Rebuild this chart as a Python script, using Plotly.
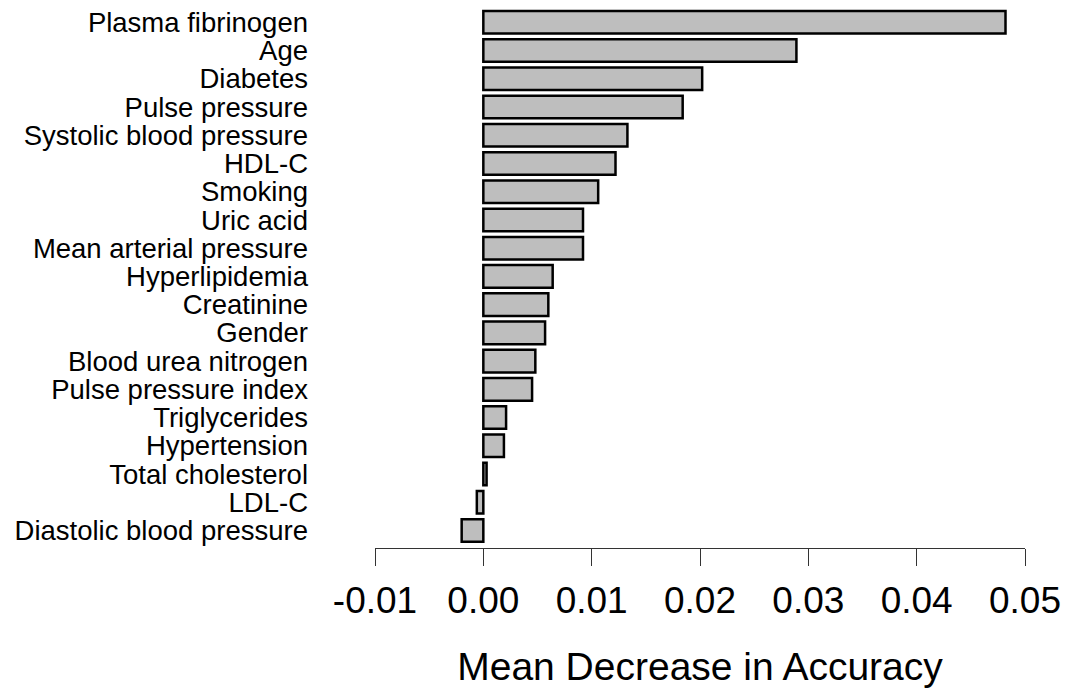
import plotly.graph_objects as go

variables = [
    "Plasma fibrinogen", "Age", "Diabetes", "Pulse pressure",
    "Systolic blood pressure", "HDL-C", "Smoking", "Uric acid",
    "Mean arterial pressure", "Hyperlipidemia", "Creatinine", "Gender",
    "Blood urea nitrogen", "Pulse pressure index", "Triglycerides",
    "Hypertension", "Total cholesterol", "LDL-C", "Diastolic blood pressure",
]
mean_decrease_accuracy = [
    0.0482, 0.0289, 0.0202, 0.0184,
    0.0133, 0.0122, 0.0106, 0.0092,
    0.0092, 0.0064, 0.0060, 0.0057,
    0.0048, 0.0045, 0.0021,
    0.0019, 0.0003, -0.0006, -0.0020,
]
x_ticks = [-0.01, 0.00, 0.01, 0.02, 0.03, 0.04, 0.05]
x_tick_labels = ["-0.01", "0.00", "0.01", "0.02", "0.03", "0.04", "0.05"]

FONT = "Liberation Sans, Arial, Helvetica, sans-serif"

fig = go.Figure(
    go.Bar(
        x=mean_decrease_accuracy,
        y=variables,
        orientation="h",
        marker=dict(color="#BEBEBE", line=dict(color="black", width=2.5)),
        hoverinfo="x+y",
    )
)

fig.update_layout(
    width=1071,
    height=688,
    margin=dict(l=375, r=46, t=8, b=140, autoexpand=False),
    paper_bgcolor="white",
    plot_bgcolor="white",
    bargap=0.2,
    showlegend=False,
    font=dict(family=FONT, color="black"),
)

fig.update_xaxes(
    range=[-0.01, 0.05],
    tickmode="array",
    tickvals=x_ticks,
    ticktext=x_tick_labels,
    ticks="outside",
    ticklen=17,
    tickwidth=1.3,
    tickcolor="#333333",
    showline=True,
    linecolor="#333333",
    linewidth=1.3,
    showgrid=False,
    zeroline=False,
    tickfont=dict(size=37, family=FONT, color="black"),
    ticklabelstandoff=2,
    title=dict(text="Mean Decrease in Accuracy", font=dict(size=39, family=FONT, color="black"), standoff=34),
    automargin=False,
)

fig.update_yaxes(
    categoryorder="array",
    categoryarray=variables,
    tickmode="array",
    tickvals=variables,
    ticktext=variables,
    range=[18.62, -0.507],
    showline=False,
    showgrid=False,
    zeroline=False,
    ticks="",
    tickfont=dict(size=27.5, family=FONT, color="black"),
    ticklabelstandoff=66,
    automargin=False,
)

fig.write_html(
    "out.html",
    config={"displayModeBar": False},
    post_script="document.body.style.margin='0';document.body.style.overflow='hidden';",
)
